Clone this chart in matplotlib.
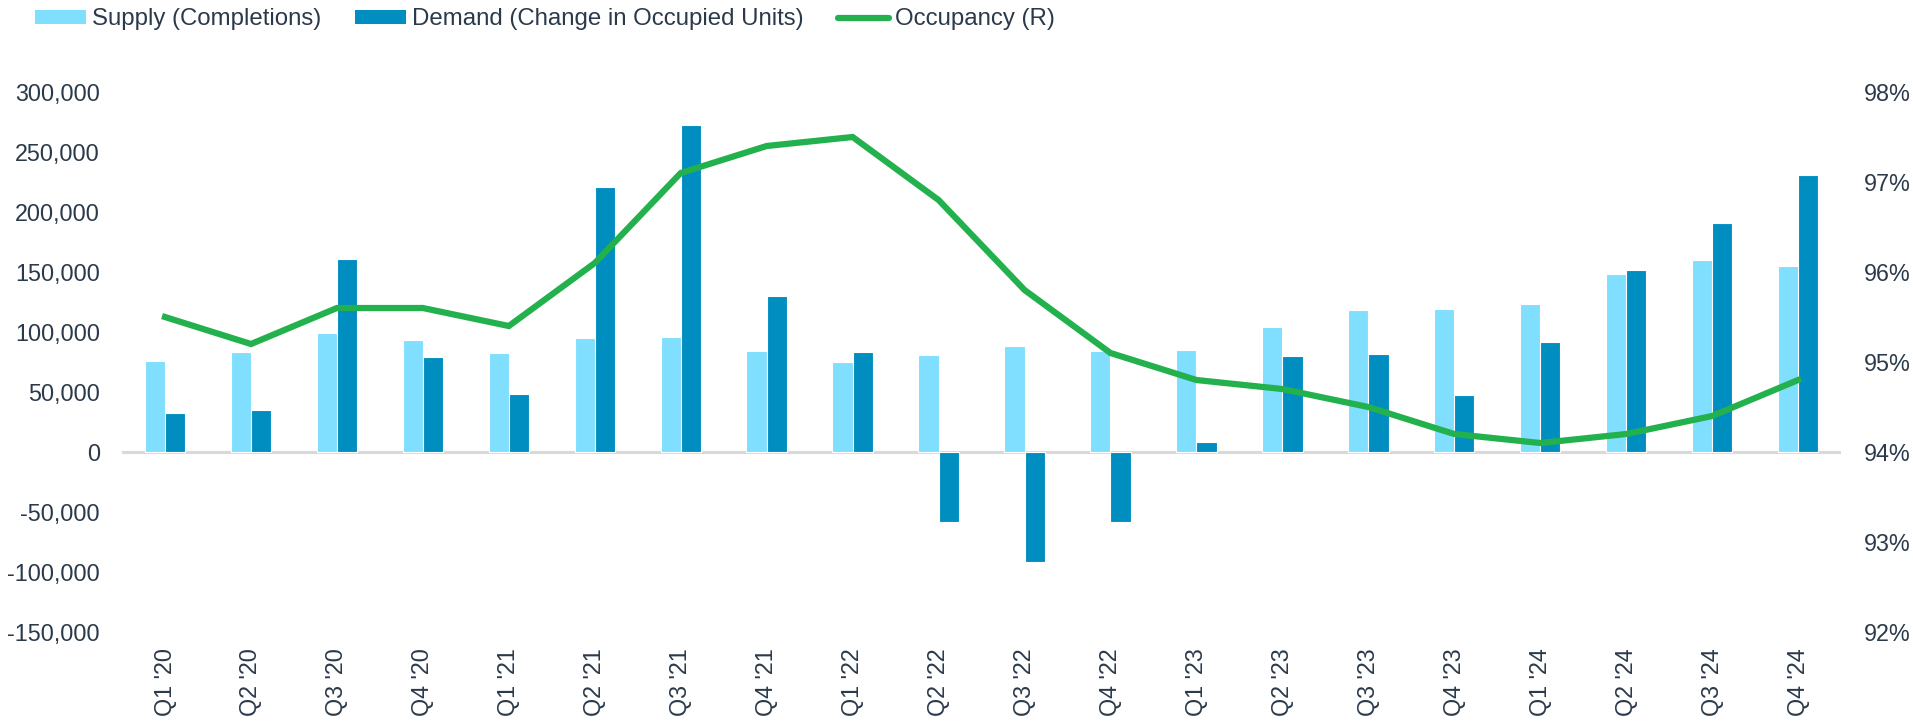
import matplotlib
matplotlib.use('agg')

import matplotlib.pyplot as plt
import matplotlib.ticker as mticker
from matplotlib.patches import Patch
from matplotlib.lines import Line2D
import numpy as np

quarters = ["Q1 '20", "Q2 '20", "Q3 '20", "Q4 '20",
            "Q1 '21", "Q2 '21", "Q3 '21", "Q4 '21",
            "Q1 '22", "Q2 '22", "Q3 '22", "Q4 '22",
            "Q1 '23", "Q2 '23", "Q3 '23", "Q4 '23",
            "Q1 '24", "Q2 '24", "Q3 '24", "Q4 '24"]

supply = [76000, 83000, 99000, 93000,
          82500, 95000, 96000, 84000,
          75000, 81000, 88500, 84000,
          85000, 104000, 118000, 119000,
          123500, 148000, 160000, 155000]

demand = [32500, 35000, 161000, 79000,
          48000, 220500, 272500, 130000,
          83500, -58000, -91500, -58500,
          8500, 80000, 81500, 47500,
          92000, 152000, 190500, 230500]

occupancy = [95.5, 95.2, 95.6, 95.6,
             95.4, 96.1, 97.1, 97.4,
             97.5, 96.8, 95.8, 95.1,
             94.8, 94.7, 94.5, 94.2,
             94.1, 94.2, 94.4, 94.8]

SUPPLY_COLOR = '#80DEFE'
DEMAND_COLOR = '#008EC0'
OCC_COLOR = '#23B14D'
TEXT_COLOR = '#2B3A4A'

plt.rcParams['font.family'] = ['Liberation Sans', 'DejaVu Sans']
plt.rcParams['font.size'] = 16.8

fig = plt.figure(figsize=(19.13, 7.21), dpi=100)
ax = fig.add_axes([0.0638, 0.1234, 0.8986, 0.749])

x = np.arange(len(quarters))
w = 0.235
ax.bar(x - w / 2, supply, width=w, color=SUPPLY_COLOR, edgecolor='white', linewidth=0.8, zorder=2)
ax.bar(x + w / 2, demand, width=w, color=DEMAND_COLOR, edgecolor='white', linewidth=0.8, zorder=2)
ax.axhline(0, color='#D9D9D9', linewidth=2.2, zorder=1)

ax.set_xlim(-0.5, len(quarters) - 0.5)
ax.set_ylim(-150000, 300000)
ax.set_yticks(np.arange(-150000, 300001, 50000))
ax.yaxis.set_major_formatter(mticker.FuncFormatter(lambda v, p: f'{int(v):,}'))
ax.set_xticks(x)
ax.set_xticklabels(quarters, rotation=90)
ax.tick_params(axis='y', length=0, pad=16, colors=TEXT_COLOR, labelsize=16.8)
ax.tick_params(axis='x', length=0, pad=11.5, colors=TEXT_COLOR, labelsize=16.8)
for s in ax.spines.values():
    s.set_visible(False)

ax2 = ax.twinx()
ax2.plot(x, occupancy, color=OCC_COLOR, linewidth=4.5, solid_joinstyle='miter', zorder=3)
ax2.set_ylim(92, 98)
ax2.set_yticks(np.arange(92, 98.1, 1))
ax2.yaxis.set_major_formatter(mticker.FuncFormatter(lambda v, p: f'{int(round(v))}%'))
ax2.tick_params(axis='y', length=0, pad=16.5, colors=TEXT_COLOR, labelsize=16.8)
for s in ax2.spines.values():
    s.set_visible(False)

handles = [
    Patch(facecolor=SUPPLY_COLOR, label='Supply (Completions)'),
    Patch(facecolor=DEMAND_COLOR, label='Demand (Change in Occupied Units)'),
    Line2D([0], [0], color=OCC_COLOR, linewidth=4.5, solid_capstyle='round', label='Occupancy (R)'),
]
leg = fig.legend(handles=handles, loc='upper left', bbox_to_anchor=(0.0158, 0.995),
                 ncol=3, frameon=False, borderaxespad=0.0, borderpad=0.2,
                 handlelength=2.12, handleheight=0.55, handletextpad=0.25,
                 columnspacing=1.42, fontsize=17.3)
for t in leg.get_texts():
    t.set_color(TEXT_COLOR)

fig.savefig('out.png', dpi=100)
